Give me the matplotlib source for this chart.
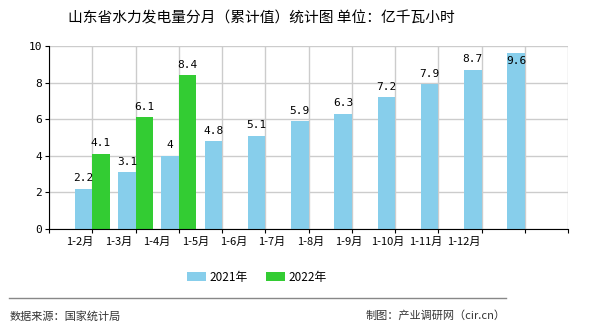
import numpy as np
import matplotlib
matplotlib.use('Agg')
import matplotlib.pyplot as plt

plt.rcParams['font.family'] = ['Noto Sans CJK SC', 'DejaVu Sans']

months = ['1-2月', '1-3月', '1-4月', '1-5月', '1-6月', '1-7月', '1-8月',
          '1-9月', '1-10月', '1-11月', '1-12月']
v2021 = [2.2, 3.1, 4, 4.8, 5.1, 5.9, 6.3, 7.2, 7.9, 8.7, 9.6]
v2022 = [4.1, 6.1, 8.4]

c2021 = '#87CEEB'
c2022 = '#33CC33'

fig = plt.figure(figsize=(5.9, 3.3), dpi=100)
ax = fig.add_axes([49/590, 101/330, 519/590, 183/330])

x = np.arange(1, len(months) + 1)
w = 0.4
b1 = ax.bar(x[:len(v2021)] - w, v2021, width=w, align='edge', color=c2021, label='2021年')
b2 = ax.bar(x[:len(v2022)], v2022, width=w, align='edge', color=c2022, label='2022年')


def put_label(r, v):
    cx = r.get_x() + r.get_width()/2
    if v + 0.9 > 10:
        # no room above the bar: label drops inside, as in the source
        ax.text(cx, 9.45, '%g' % v, ha='center', va='top',
                fontsize=8, family='DejaVu Sans Mono')
    else:
        ax.text(cx, v + 0.3, '%g' % v, ha='center', va='bottom',
                fontsize=8, family='DejaVu Sans Mono')


for r, v in zip(b1, v2021):
    put_label(r, v)
for r, v in zip(b2, v2022):
    put_label(r, v)

ax.set_xlim(0, 12)
ax.set_ylim(0, 10)
ax.set_yticks(range(0, 11, 2))
ax.set_xticks(range(0, 13))
ax.set_xticklabels([])
# month labels sit a bit left of the bar groups, as in the source
lab_pos = 0.72 + 0.888 * np.arange(len(months))
ax.set_xticks(lab_pos, minor=True)
ax.set_xticklabels(months, minor=True, fontsize=8)
ax.tick_params(axis='x', which='minor', length=0, pad=6)
ax.tick_params(axis='x', which='major', length=3, direction='out', color='black')
ax.tick_params(axis='y', length=3, direction='out', labelsize=8, pad=2)
for lab in ax.get_yticklabels():
    lab.set_family('DejaVu Sans Mono')

ax.grid(True, which='major', color='#cccccc', linewidth=1)
ax.set_axisbelow(True)
ax.spines['top'].set_visible(False)
ax.spines['right'].set_visible(False)
ax.spines['left'].set_color('black')
ax.spines['bottom'].set_color('black')

fig.text(261/590, 1 - 18/330, '山东省水力发电量分月（累计值）统计图 单位：亿千瓦小时',
         ha='center', va='center', fontsize=10.6)

fig.legend(handles=[b1[0], b2[0]], labels=['2021年', '2022年'], loc='center',
           bbox_to_anchor=(257/590, 1 - 277/330), ncol=2, frameon=False, fontsize=8.5,
           handlelength=1.6, handleheight=0.8, columnspacing=1.5, handletextpad=0.3)

fig.add_artist(plt.Line2D([9/590, 506/590], [1 - 298/330, 1 - 298/330],
                          color='#888888', linewidth=1))
fig.text(10/590, 1 - 316/330, '数据来源：国家统计局', ha='left', va='center',
         fontsize=8, color='#333333')
fig.text(506/590, 1 - 316/330, '制图：产业调研网（cir.cn）', ha='right', va='center',
         fontsize=8, color='#333333')

fig.savefig('out.png', dpi=100)
